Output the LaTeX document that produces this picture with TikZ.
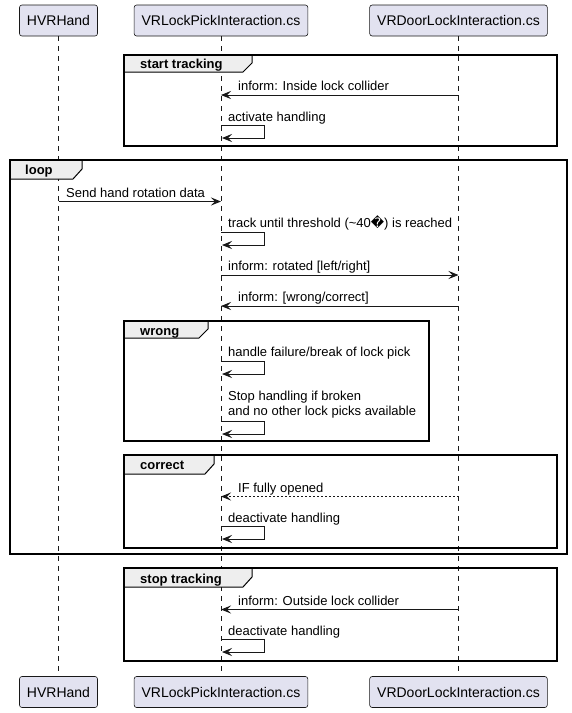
\documentclass[tikz,border=0pt]{standalone}
\usepackage{fontspec}
\setmainfont{Liberation Sans}
\newfontfamily\symfont{DejaVu Sans}
\usetikzlibrary{arrows.meta}
\definecolor{partfill}{HTML}{E2E2F0}
\definecolor{partline}{HTML}{181818}
\definecolor{tabfill}{HTML}{EEEEEE}
\tikzset{
  part/.style={draw=partline, fill=partfill, rounded corners=2.5pt, line width=0.6pt,
    minimum height=31pt, inner xsep=7.5pt, font=\fontsize{14}{16}\selectfont},
  life/.style={draw=partline, line width=0.5pt, dash pattern=on 5pt off 5pt},
  msg/.style={draw=partline, line width=0.9pt, -{Stealth[length=10pt,width=8pt,inset=4pt]}},
  txt/.style={inner sep=0pt, anchor=base west, align=left, font=\fontsize{13}{15}\selectfont},
  frame/.style={draw=black, line width=1.5pt},
  tab/.style={draw=black, fill=tabfill, line width=1pt},
  glabel/.style={inner sep=0pt, anchor=base west, font=\bfseries\fontsize{13}{15}\selectfont}
}
\begin{document}
\begin{tikzpicture}[x=1pt, y=-1pt]
  \useasboundingbox (0,0) rectangle (572,713);
  % participants
  \node[part] (hand) at (58.5,20.5) {HVRHand};
  \node[part] (pick) at (221,20.5) {VRLockPickInteraction.cs};
  \node[part] (door) at (458.5,20.5) {VRDoorLockInteraction.cs};
  \node[part] (handB) at (58.5,692) {HVRHand};
  \node[part] (pickB) at (221,692) {VRLockPickInteraction.cs};
  \node[part] (doorB) at (458.5,692) {VRDoorLockInteraction.cs};
  \draw[life] (hand) -- (handB);
  \draw[life] (pick) -- (pickB);
  \draw[life] (door) -- (doorB);

  % start tracking
  \draw[tab] (124,55) -- (252,55) -- (252,63) -- (243,72) -- (124,72) -- cycle;
  \draw[frame] (124,55) rectangle (557,146);
  \node[glabel] (g1) at (140,68.5) {start tracking};
  \coordinate (m1) at (0,95);
  \draw[msg] (door |- m1) -- (pick |- m1);
  \node[txt] (t1) at (238,90.5) {inform: Inside lock collider};
  \coordinate (s1) at (0,125);
  \draw[msg] (pick |- s1) -- ++(43,0) -- ++(0,13) -- ++(-42,0);
  \node[txt] (t2) at (228,121.5) {activate handling};

  % loop
  \draw[tab] (10,160) -- (82,160) -- (82,169) -- (73,179) -- (10,179) -- cycle;
  \draw[frame] (10,160) rectangle (567,554);
  \node[glabel] (g2) at (25,174.5) {loop};
  \coordinate (m2) at (0,201.5);
  \draw[msg] (hand |- m2) -- (pick |- m2);
  \node[txt] (t3) at (66,197) {Send hand rotation data};
  \coordinate (s2) at (0,232);
  \draw[msg] (pick |- s2) -- ++(43,0) -- ++(0,13) -- ++(-42,0);
  \node[txt] (t4) at (228,227.5) {track until threshold (\textasciitilde40{\symfont ^^^^fffd}) is reached};
  \coordinate (m3) at (0,275);
  \draw[msg] (pick |- m3) -- (door |- m3);
  \node[txt] (t5) at (228,270.5) {inform: rotated [left/right]};
  \coordinate (m4) at (0,306);
  \draw[msg] (door |- m4) -- (pick |- m4);
  \node[txt] (t6) at (238,301.5) {inform: [wrong/correct]};

  % wrong
  \draw[tab] (124,321) -- (208,321) -- (208,329) -- (199,338) -- (124,338) -- cycle;
  \draw[frame] (124,321) rectangle (429,441);
  \node[glabel] (g3) at (140,335.5) {wrong};
  \coordinate (s3) at (0,361.5);
  \draw[msg] (pick |- s3) -- ++(43,0) -- ++(0,12.5) -- ++(-42,0);
  \node[txt] (t7) at (228,356.5) {handle failure/break of lock pick};
  \coordinate (s4) at (0,421);
  \draw[msg] (pick |- s4) -- ++(43,0) -- ++(0,13) -- ++(-42,0);
  \node[txt] (t8) at (228,415.5) {Stop handling if broken\\and no other lock picks available};

  % correct
  \draw[tab] (124,455) -- (214,455) -- (214,464) -- (205,474) -- (124,474) -- cycle;
  \draw[frame] (124,455) rectangle (557,548);
  \node[glabel] (g4) at (140,469.5) {correct};
  \coordinate (m5) at (0,496.5);
  \draw[msg, dash pattern=on 2pt off 2pt] (door |- m5) -- (pick |- m5);
  \node[txt] (t9) at (238,492) {IF fully opened};
  \coordinate (s5) at (0,526.5);
  \draw[msg] (pick |- s5) -- ++(43,0) -- ++(0,12.5) -- ++(-42,0);
  \node[txt] (t10) at (228,522.5) {deactivate handling};

  % stop tracking
  \draw[tab] (124,568) -- (252,568) -- (252,577) -- (243,587) -- (124,587) -- cycle;
  \draw[frame] (124,568) rectangle (557,661);
  \node[glabel] (g5) at (140,583.5) {stop tracking};
  \coordinate (m6) at (0,609.5);
  \draw[msg] (door |- m6) -- (pick |- m6);
  \node[txt] (t11) at (238,605.5) {inform: Outside lock collider};
  \coordinate (s6) at (0,639);
  \draw[msg] (pick |- s6) -- ++(43,0) -- ++(0,13) -- ++(-42,0);
  \node[txt] (t12) at (228,635.5) {deactivate handling};
\end{tikzpicture}
\end{document}
